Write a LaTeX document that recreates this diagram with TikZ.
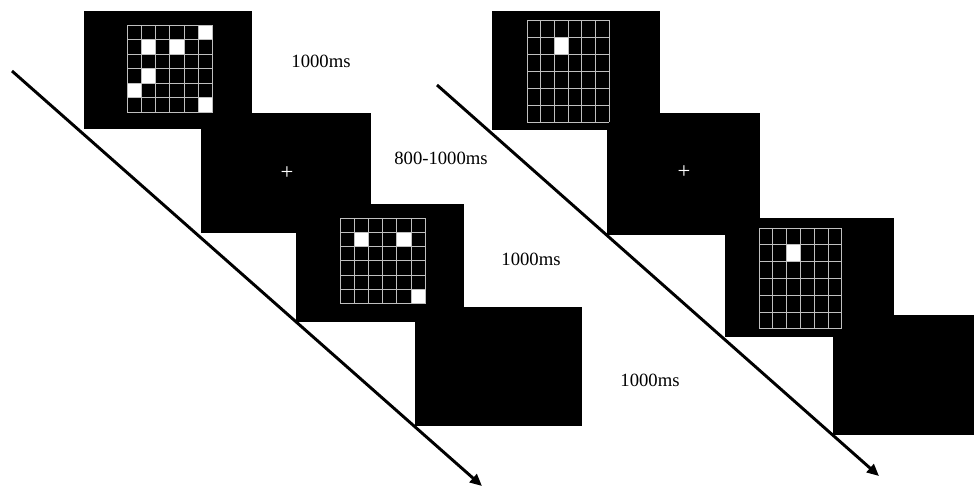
\documentclass[tikz,border=0pt]{standalone}
\usepackage{fontspec}
\setmainfont{Liberation Serif}
\usetikzlibrary{arrows.meta}
\tikzset{
  screen/.style={fill=black},
  cellline/.style={draw=white!75!black,line width=0.75pt},
  timing/.style={font=\fontsize{14}{16}\selectfont},
  timeline/.style={line width=2.2pt,-{Triangle[length=9pt,width=8pt]}}
}
\begin{document}
\begin{tikzpicture}[x=0.75pt,y=-0.75pt]
  \useasboundingbox (0,0) rectangle (974,487);
  % time axes
  \coordinate (t1s) at (12,71);
  \coordinate (t1e) at (482,486);
  \coordinate (t2s) at (437,85);
  \coordinate (t2e) at (879,476);
  \draw[timeline] (t1s) -- (t1e);
  \draw[timeline] (t2s) -- (t2e);
  % screens
  \foreach \xa/\ya/\xb/\yb in {84/11/252/129, 201/113/371/233, 296/204/464/322, 415/307/582/426,
      492/11/660/130, 607/113/760/235, 725/218/894/337, 833/315/974/435}
    \fill[screen] (\xa,\ya) rectangle (\xb,\yb);
  % grids
  \foreach \gx/\gy/\cw/\ch/\cells in {127/25/14.25/14.5/{5/0,1/1,3/1,1/3,0/4,5/5},
      340/218/14.2/14.3/{1/1,4/1,5/5}, 527/20/13.7/17/{2/1}, 759/228/13.8/16.8/{2/1}}{
    \begin{scope}[shift={(\gx,\gy)},xscale=\cw,yscale=\ch]
      \foreach \u/\v in \cells
        \fill[white] (\u,\v) rectangle ++(1,1);
      \foreach \i in {0,...,6}
        \draw[cellline] (\i,0) -- (\i,6) (0,\i) -- (6,\i);
    \end{scope}
  }
  % fixation
  \node[white,font=\fontsize{17}{17}\selectfont] (fix1) at (287,173) {+};
  \node[white,font=\fontsize{17}{17}\selectfont] (fix2) at (684,172) {+};
  % durations
  \node[timing] (dur1) at (321,61) {1000ms};
  \node[timing] (dur2) at (441,158) {800-1000ms};
  \node[timing] (dur3) at (531,259) {1000ms};
  \node[timing] (dur4) at (650,380) {1000ms};
\end{tikzpicture}
\end{document}
